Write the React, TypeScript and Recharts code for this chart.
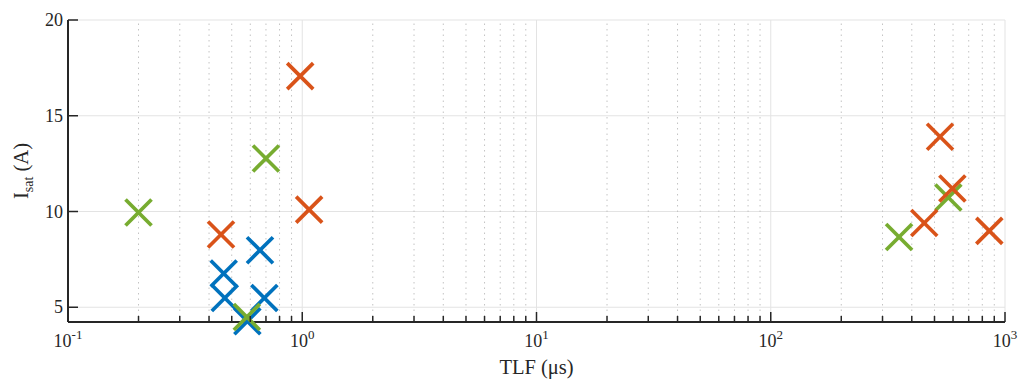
import React from "react"
import {
  ScatterChart,
  Scatter,
  XAxis,
  YAxis,
  CartesianGrid,
  ReferenceLine,
  Label,
} from "recharts"

// TLF (µs) / I_sat (A) per group
const blueTlf = [0.66, 0.462, 0.467, 0.689, 0.583]
const blueIsat = [7.98, 6.76, 5.48, 5.48, 4.27]

const greenTlf = [0.2, 0.7, 0.58, 353, 573]
const greenIsat = [9.95, 12.77, 4.49, 8.67, 10.73]

const orangeTlf = [0.45, 0.98, 1.07, 528, 596, 452, 857]
const orangeIsat = [8.8, 17.07, 10.1, 13.9, 11.2, 9.4, 8.99]

const xDecades = [0.1, 1, 10, 100, 1000]
const xDecadeLabels = ["-1", "0", "1", "2", "3"]
const minorSteps = [2, 3, 4, 5, 6, 7, 8, 9]
const yTicks = [5, 10, 15, 20]

const xMinor = xDecades.slice(0, -1).flatMap((d) => minorSteps.map((m) => +(d * m).toPrecision(3)))
const xAllTicks = [...xDecades, ...xMinor].sort((a, b) => a - b)

const toPoints = (xs: number[], ys: number[]) => xs.map((x, i) => ({ x, y: ys[i] }))

const FONT = "'Liberation Serif', 'DejaVu Serif', serif"
const AXIS = "#262626"

const COLORS = {
  blue: "#0072BD",
  orange: "#D95319",
  green: "#77AC30",
}

function cross(color: string) {
  return (props: any) => {
    const { cx, cy } = props
    const r = 13
    return (
      <g stroke={color} strokeWidth={3.7} strokeLinecap="butt">
        <line x1={cx - r} y1={cy - r} x2={cx + r} y2={cy + r} />
        <line x1={cx - r} y1={cy + r} x2={cx + r} y2={cy - r} />
      </g>
    )
  }
}

function XTick(props: any) {
  const { x, y, payload } = props
  const idx = xDecades.indexOf(payload.value)
  const major = idx >= 0
  return (
    <g>
      <line x1={x} x2={x} y1={y} y2={y - (major ? 10 : 6)} stroke={AXIS} strokeWidth={1.5} />
      {major && (
        <text x={x} y={y + 25} textAnchor="middle" fontFamily={FONT} fontSize={18} fill={AXIS}>
          10
          <tspan dy={-8} fontSize={13}>
            {xDecadeLabels[idx]}
          </tspan>
        </text>
      )}
    </g>
  )
}

function YTick(props: any) {
  const { x, y, payload } = props
  return (
    <g>
      <line x1={x} x2={x + 10} y1={y} y2={y} stroke={AXIS} strokeWidth={1.5} />
      <text x={x - 5} y={y + 6} textAnchor="end" fontFamily={FONT} fontSize={18} fill={AXIS}>
        {payload.value}
      </text>
    </g>
  )
}

export default function App() {
  return (
    <div style={{ position: "absolute", left: 0, top: 0, background: "#fff" }}>
      <ScatterChart
        width={1018}
        height={383}
        margin={{ top: 20, right: 13, left: 8, bottom: 21 }}
      >
        <CartesianGrid vertical={false} stroke="#e3e3e3" strokeWidth={1} />
        {xMinor.map((v) => (
          <ReferenceLine
            key={"m" + v}
            x={v}
            stroke="#c4c4c4"
            strokeWidth={1}
            strokeDasharray="1.5 4"
          />
        ))}
        {xDecades.slice(1).map((v) => (
          <ReferenceLine key={"d" + v} x={v} stroke="#e3e3e3" strokeWidth={1} />
        ))}
        <XAxis
          type="number"
          dataKey="x"
          scale="log"
          domain={[0.1, 1000]}
          ticks={xAllTicks}
          interval={0}
          tickSize={0}
          tickMargin={0}
          tickLine={false}
          tick={<XTick />}
          height={40}
          axisLine={{ stroke: AXIS, strokeWidth: 2 }}
        >
          <Label
            content={(p: any) => {
              const vb = p.viewBox
              return (
                <text
                  x={vb.x + vb.width / 2}
                  y={374}
                  textAnchor="middle"
                  fontFamily={FONT}
                  fontSize={20.5}
                  fill={AXIS}
                >
                  TLF (μs)
                </text>
              )
            }}
          />
        </XAxis>
        <YAxis
          type="number"
          dataKey="y"
          domain={[4.23, 20]}
          ticks={yTicks}
          interval={0}
          tickSize={0}
          tickMargin={0}
          tickLine={false}
          tick={<YTick />}
          width={60}
          axisLine={{ stroke: AXIS, strokeWidth: 2 }}
        >
          <Label
            content={(p: any) => {
              const vb = p.viewBox
              const cy = vb.y + vb.height / 2
              return (
                <text
                  x={28}
                  y={cy}
                  transform={`rotate(-90 28 ${cy})`}
                  textAnchor="middle"
                  fontFamily={FONT}
                  fontSize={20.5}
                  fill={AXIS}
                >
                  I
                  <tspan dy={5} fontSize={14}>
                    sat
                  </tspan>
                  <tspan dy={-5}> (A)</tspan>
                </text>
              )
            }}
          />
        </YAxis>
        <Scatter
          data={toPoints(blueTlf, blueIsat)}
          shape={cross(COLORS.blue)}
          isAnimationActive={false}
        />
        <Scatter
          data={toPoints(greenTlf, greenIsat)}
          shape={cross(COLORS.green)}
          isAnimationActive={false}
        />
        <Scatter
          data={toPoints(orangeTlf, orangeIsat)}
          shape={cross(COLORS.orange)}
          isAnimationActive={false}
        />
      </ScatterChart>
    </div>
  )
}
